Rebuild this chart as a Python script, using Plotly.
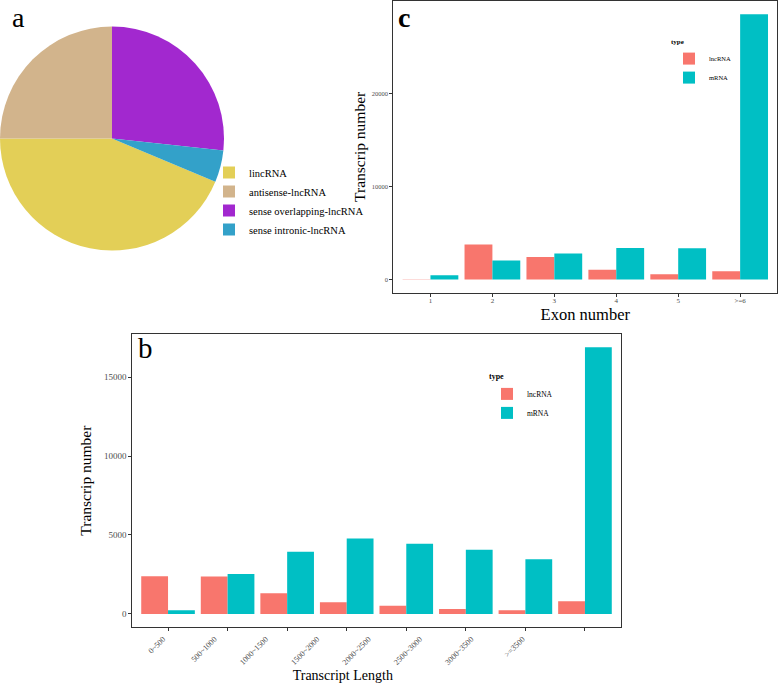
import plotly.graph_objects as go

# ---------------- data ----------------
pie_labels = ["lincRNA", "antisense-lncRNA", "sense overlapping-lncRNA", "sense intronic-lncRNA"]
pie_values = [43.7, 25.0, 26.7, 4.6]
pie_colors = ["#E3CF57", "#D2B48C", "#A228CF", "#33A1C9"]

length_bins = ["0~500", "500~1000", "1000~1500", "1500~2000", "2000~2500",
               "2500~3000", "3000~3500", ">=3500"]
length_lnc = [2385, 2365, 1310, 740, 525, 315, 230, 800]
length_mrna = [230, 2530, 3945, 4770, 4450, 4070, 3460, 16880]

exon_bins = ["1", "2", "3", "4", "5", ">=6"]
exon_lnc = [20, 3750, 2420, 1030, 570, 890]
exon_mrna = [460, 2035, 2785, 3390, 3355, 28500]

type_names = ["lncRNA", "mRNA"]
type_colors = ["#F8766D", "#00BFC4"]

# ---------------- layout helpers (pixel -> paper) ----------------
W, H = 780, 683
def fx(p):
    return p / W
def fy(p):
    return 1 - p / H

SERIF = "Liberation Serif"
TICKGRAY = "#4D4D4D"

fig = go.Figure()

# panel a: pie
fig.add_trace(go.Pie(
    labels=pie_labels, values=pie_values,
    marker=dict(colors=pie_colors, line=dict(width=0)),
    sort=False, direction="clockwise",
    rotation=360 * (pie_values[2] + pie_values[3]) / sum(pie_values),
    textinfo="none", hoverinfo="label+percent",
    domain=dict(x=[0, fx(224)], y=[fy(138.5 + 114), fy(138.5 - 114)]),
    legend="legend",
))

# panel b: transcript length
for name, col, vals in zip(type_names, type_colors, [length_lnc, length_mrna]):
    fig.add_trace(go.Bar(x=length_bins, y=vals, name=name,
                         marker=dict(color=col, line=dict(width=0)),
                         xaxis="x", yaxis="y", legend="legend2"))

# helper (no visible marks) so that the label axis of panel b is drawn
fig.add_trace(go.Scatter(x=list(range(len(length_bins))), y=[None] * len(length_bins),
                         mode="markers", xaxis="x2", yaxis="y",
                         showlegend=False, hoverinfo="skip"))

# panel c: exon number
for name, col, vals in zip(type_names, type_colors, [exon_lnc, exon_mrna]):
    fig.add_trace(go.Bar(x=exon_bins, y=vals, name=name,
                         marker=dict(color=col, line=dict(width=0)),
                         xaxis="x3", yaxis="y3", legend="legend3"))

frame = dict(showline=True, linecolor="#333333", linewidth=1, mirror=True,
             showgrid=False, zeroline=False, ticks="outside", ticklen=3,
             tickcolor="#333333", tickwidth=1)

mb = max(max(length_lnc), max(length_mrna))
mc = max(max(exon_lnc), max(exon_mrna))

# b panel geometry (px)
bL, bR, bT, bB = 132.3, 620.7, 334, 627.3
label_axis_right = bL + 0.862 * (bR - bL)
# c panel geometry (px)
cL, cR, cT, cB = 393.3, 777.3, 1, 292.7

fig.update_layout(
    width=W, height=H,
    margin=dict(l=0, r=0, t=0, b=0),
    template="none",
    paper_bgcolor="white", plot_bgcolor="rgba(0,0,0,0)",
    font=dict(family=SERIF, color="black"),
    hovermode=False,
    barmode="group", bargap=0.1, bargroupgap=0,
    xaxis=dict(frame, domain=[fx(bL), fx(bR)], anchor="y", type="category",
               range=[-0.6, len(length_bins) - 0.4], showticklabels=False),
    yaxis=dict(frame, domain=[fy(bB), fy(bT)], anchor="x",
               range=[-0.05 * mb, 1.05 * mb], dtick=5000, tickformat="d",
               tickfont=dict(size=9, color=TICKGRAY),
               title=dict(text="Transcrip number", font=dict(size=15.5), standoff=8)),
    xaxis2=dict(domain=[fx(bL), fx(label_axis_right)], anchor="y",
                range=[-0.6, len(length_bins) - 0.4], showline=False, showgrid=False,
                zeroline=False, ticks="outside", ticklen=3, tickcolor="rgba(0,0,0,0)",
                tickmode="array", tickvals=list(range(len(length_bins))),
                ticktext=length_bins, tickangle=-45,
                tickfont=dict(size=8, color=TICKGRAY),
                title=dict(text="Transcript Length", font=dict(size=14), standoff=6)),
    xaxis3=dict(frame, domain=[fx(cL), fx(cR)], anchor="y3", type="category",
                range=[-0.6, len(exon_bins) - 0.4],
                tickfont=dict(size=7, color=TICKGRAY), ticklabelstandoff=-2,
                title=dict(text="Exon number", font=dict(size=16.5), standoff=0)),
    yaxis3=dict(frame, domain=[fy(cB), fy(cT)], anchor="x3",
                range=[-0.05 * mc, 1.05 * mc], dtick=10000, tickformat="d",
                tickfont=dict(size=6.5, color=TICKGRAY),
                title=dict(text="Transcrip number", font=dict(size=15.5), standoff=2)),
    legend=dict(x=fx(209), y=fy(201), xanchor="left", yanchor="middle",
                font=dict(size=10.5), bgcolor="rgba(0,0,0,0)"),
    legend2=dict(x=fx(487), y=fy(369), xanchor="left", yanchor="top",
                 title=dict(text="<b>type</b>", font=dict(size=8)),
                 font=dict(size=7.5), bgcolor="rgba(0,0,0,0)"),
    legend3=dict(x=fx(669), y=fy(35), xanchor="left", yanchor="top",
                 title=dict(text="<b>type</b>", font=dict(size=7)),
                 font=dict(size=6.5), bgcolor="rgba(0,0,0,0)"),
    annotations=[
        dict(text="a", x=fx(10), y=fy(0), xref="paper", yref="paper",
             xanchor="left", yanchor="top", showarrow=False,
             font=dict(size=28, family=SERIF)),
        dict(text="b", x=fx(136), y=fy(330), xref="paper", yref="paper",
             xanchor="left", yanchor="top", showarrow=False,
             font=dict(size=29, family=SERIF)),
        dict(text="<b>c</b>", x=fx(396), y=fy(0), xref="paper", yref="paper",
             xanchor="left", yanchor="top", showarrow=False,
             font=dict(size=28, family=SERIF)),
    ],
)

fig.write_html("out.html",
               config={"displayModeBar": False, "staticPlot": True},
               post_script="document.body.style.margin='0px';document.body.style.overflow='hidden';")
